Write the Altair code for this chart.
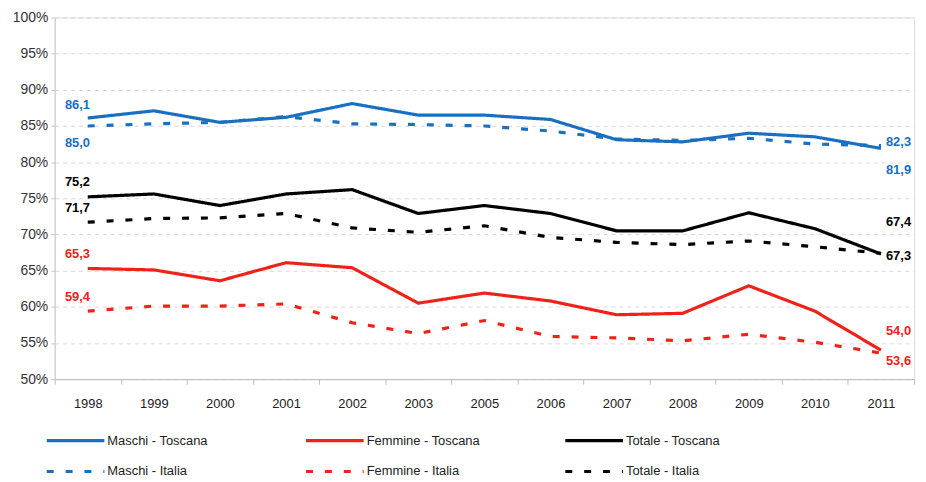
import altair as alt
import pandas as pd

years = ["1998", "1999", "2000", "2001", "2002", "2003", "2005", "2006", "2007", "2008", "2009", "2010", "2011"]

maschi_toscana = [86.1, 87.1, 85.5, 86.2, 88.1, 86.5, 86.5, 85.9, 83.1, 82.8, 84.0, 83.5, 81.9]
maschi_italia = [85.0, 85.3, 85.5, 86.3, 85.3, 85.2, 85.0, 84.3, 83.2, 83.0, 83.3, 82.5, 82.3]
femmine_toscana = [65.3, 65.1, 63.6, 66.1, 65.4, 60.5, 61.9, 60.8, 58.9, 59.1, 62.9, 59.4, 54.0]
femmine_italia = [59.4, 60.1, 60.1, 60.4, 57.8, 56.3, 58.1, 55.9, 55.7, 55.3, 56.2, 55.1, 53.6]
totale_toscana = [75.2, 75.6, 74.0, 75.6, 76.2, 72.9, 74.0, 72.9, 70.5, 70.5, 73.0, 70.8, 67.3]
totale_italia = [71.7, 72.2, 72.3, 72.9, 70.9, 70.3, 71.2, 69.6, 68.9, 68.6, 69.1, 68.3, 67.4]

series_names = ["Maschi - Toscana", "Femmine - Toscana", "Totale - Toscana",
                "Maschi - Italia", "Femmine - Italia", "Totale - Italia"]
series_values = [maschi_toscana, femmine_toscana, totale_toscana,
                 maschi_italia, femmine_italia, totale_italia]
series_colors = ["#1a6fc0", "#ee2219", "#000000", "#1a6fc0", "#ee2219", "#000000"]
series_dash = [[1, 0], [1, 0], [1, 0], [7, 12], [7, 12], [7, 12]]
series_width = [3.2, 3.2, 3.2, 3.8, 3.8, 3.8]

rows = []
for name, vals in zip(series_names, series_values):
    for y, v in zip(years, vals):
        rows.append({"year": y, "value": v, "series": name})
df = pd.DataFrame(rows)

def fmt(v):
    return f"{v:.1f}".replace(".", ",")

# label offsets in pixels (style, not data)
start_dy = {"Maschi - Toscana": -13, "Maschi - Italia": 17, "Totale - Toscana": -15,
            "Totale - Italia": -14, "Femmine - Toscana": -15, "Femmine - Italia": -14}
end_dy = {"Maschi - Toscana": 22, "Maschi - Italia": -4, "Totale - Toscana": 2,
          "Totale - Italia": -31, "Femmine - Toscana": -19, "Femmine - Italia": 8}

FONT = "Liberation Sans Narrow, Liberation Sans, Arial, sans-serif"

color_scale = alt.Scale(domain=series_names, range=series_colors)
dash_scale = alt.Scale(domain=series_names, range=series_dash)
width_scale = alt.Scale(domain=series_names, range=series_width)

x_enc = alt.X("year:O", sort=years, bandPosition=0.5,
              scale=alt.Scale(type="band", paddingInner=0, paddingOuter=0),
              axis=alt.Axis(title=None, labelAngle=0, tickBand="extent", domainColor="#bbbbbb",
                            tickColor="#bbbbbb", tickSize=5, labelPadding=14, labelFontSize=13,
                            labelColor="#222222", labelFont=FONT, grid=False))
y_enc = alt.Y("value:Q", scale=alt.Scale(domain=[50, 100], nice=False, zero=False),
              axis=alt.Axis(title=None, values=list(range(50, 101, 5)), labelExpr="datum.value + '%'",
                            grid=True, gridDash=[4, 4], gridColor="#d9d9d9", domainColor="#cccccc",
                            tickColor="#cccccc", tickSize=4, labelFontSize=14, labelColor="#333333",
                            labelFont=FONT, labelPadding=3))

lines = alt.Chart(df).mark_line().encode(
    x=x_enc, y=y_enc,
    color=alt.Color("series:N", scale=color_scale, sort=series_names,
                    legend=alt.Legend(title=None, orient="none", legendX=9, legendY=414,
                                      direction="horizontal", columns=3, columnPadding=78,
                                      gridAlign="all", symbolType="M-2.9,0H2.9", symbolSize=400,
                                      symbolStrokeWidth=3.5, labelFontSize=13, labelFont=FONT,
                                      labelColor="#222222", rowPadding=12, labelOffset=20)),
    strokeDash=alt.StrokeDash("series:N", scale=dash_scale, sort=series_names),
    strokeWidth=alt.StrokeWidth("series:N", scale=width_scale, legend=None),
)

layers = [lines]
for name, vals, col in zip(series_names, series_values, series_colors):
    for idx, dx, dmap in ((0, -23, start_dy), (-1, 5, end_dy)):
        one = pd.DataFrame({"year": [years[idx]], "value": [vals[idx]], "text": [fmt(vals[idx])]})
        layers.append(
            alt.Chart(one).mark_text(align="left", dx=dx, dy=dmap[name], fontWeight="bold",
                                     fontSize=13, font=FONT, baseline="middle", color=col)
            .encode(x=x_enc, y=y_enc, text="text:N")
        )

chart = alt.layer(*layers).properties(
    width=865, height=364,
    autosize=alt.AutoSizeParams(type="none"),
    padding={"left": 47, "top": 8, "right": 4, "bottom": 102},
).configure_view(stroke=None).configure(background="white")

chart.save("out.html", embed_options={"renderer": "svg", "actions": False})
